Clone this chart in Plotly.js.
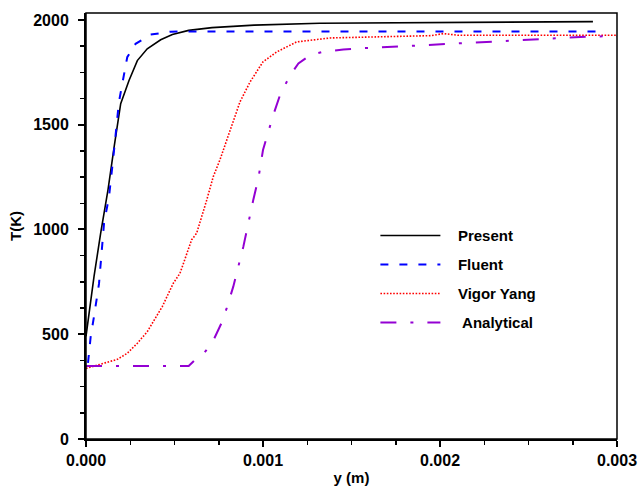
<!DOCTYPE html>
<html>
<head>
<meta charset="utf-8">
<script src="https://cdn.plot.ly/plotly-3.0.1.min.js"></script>
<style>html,body{margin:0;padding:0;background:#fff;}#chart{width:641px;height:489px;}</style>
</head>
<body>
<div id="chart"></div>
<script>
// Present (solid black)
const presentX = [0, 0.0000452, 0.0000829, 0.000124, 0.00016, 0.000196, 0.000243, 0.00029, 0.000346, 0.000422, 0.000488, 0.00058, 0.000712, 0.00095, 0.00132, 0.002, 0.002864];
const presentT = [490, 775, 982, 1188, 1400, 1600, 1711, 1806, 1862, 1905, 1930, 1950, 1963, 1975, 1984, 1989, 1992];

// Fluent (dashed blue)
const fluentX = [0.0000113, 0.0000264, 0.0000452, 0.0000734, 0.000102, 0.00013, 0.000155, 0.000175, 0.000186, 0.000205, 0.000233, 0.00028, 0.000365, 0.000479, 0.0006, 0.00288];
const fluentT = [363, 488, 585, 740, 1030, 1156, 1350, 1536, 1608, 1695, 1822, 1886, 1930, 1944, 1945, 1945];

// Vigor Yang (dotted red)
const vigorX = [0, 0.000102, 0.000177, 0.000233, 0.00029, 0.000346, 0.000394, 0.000431, 0.000493, 0.000531, 0.000597, 0.000625, 0.000682, 0.000719, 0.000757, 0.000795, 0.00087, 0.000927, 0.001, 0.001077, 0.00119, 0.00138, 0.00165, 0.00195, 0.00202, 0.0021, 0.0025, 0.003];
const vigorT = [337, 361, 380, 409, 457, 512, 576, 632, 743, 791, 951, 982, 1140, 1252, 1333, 1428, 1609, 1704, 1800, 1847, 1895, 1914, 1920, 1925, 1935, 1927, 1927, 1927];

// Analytical (dash-dot purple)
const analyticX = [0, 0.00058, 0.00061, 0.000667, 0.000714, 0.00077, 0.000795, 0.000832, 0.000889, 0.000917, 0.000945, 0.000974, 0.001, 0.001058, 0.001096, 0.001153, 0.0012, 0.001266, 0.00134, 0.001454, 0.001586, 0.001925, 0.002226, 0.002527, 0.002847, 0.003];
const analyticT = [348, 348, 373, 410, 461, 561, 625, 727, 918, 1037, 1141, 1244, 1379, 1546, 1641, 1736, 1792, 1832, 1848, 1859, 1866, 1880, 1893, 1905, 1921, 1922];

const seriesNames = ['Present', 'Fluent', 'Vigor Yang', 'Analytical'];
const xTicks = [0, 0.001, 0.002, 0.003];
const xTickText = ['0.000', '0.001', '0.002', '0.003'];
const yTicks = [0, 500, 1000, 1500, 2000];

const FONT = 'Liberation Sans, Arial, sans-serif';
const pad = '\u00a0\u00a0\u00a0';

const traces = [
  {x: presentX, y: presentT, name: pad + seriesNames[0], legendgroup: 'a', mode: 'lines',
   line: {color: '#000000', width: 1.6}},
  {x: fluentX, y: fluentT, name: pad + seriesNames[1], legendgroup: 'b', mode: 'lines',
   line: {color: '#0000FF', width: 2, dash: '8px,11px'}},
  {x: vigorX, y: vigorT, name: pad + seriesNames[2], legendgroup: 'c', mode: 'lines',
   line: {color: '#FF0000', width: 1.6, dash: '1.6px,1.6px'}},
  {x: analyticX, y: analyticT, name: pad + '\u00a0' + seriesNames[3], legendgroup: 'd', mode: 'lines',
   line: {color: '#9400D3', width: 2, dash: '16px,14px,3px,14px'}}
];

const layout = {
  width: 641, height: 489,
  margin: {l: 86, r: 24, t: 13, b: 50},
  paper_bgcolor: '#ffffff', plot_bgcolor: '#ffffff',
  font: {family: FONT, color: '#000000'},
  showlegend: true,
  legend: {x: 0.545, y: 0.516, xanchor: 'left', yanchor: 'top',
           bgcolor: 'rgba(0,0,0,0)', traceorder: 'grouped', tracegroupgap: 6.5,
           itemwidth: 60,
           font: {family: FONT, size: 15, weight: 700, color: '#000'}},
  xaxis: {
    range: [0, 0.003], tickvals: xTicks, ticktext: xTickText,
    ticks: 'outside', ticklen: 6, tickwidth: 2, tickcolor: '#000',
    showline: true, linewidth: 2, linecolor: '#000',
    showgrid: false, zeroline: false,
    tickfont: {family: FONT, size: 16, weight: 700, color: '#000'},
    minor: {dtick: 0.00025, tick0: 0, ticks: 'outside', ticklen: 4, tickwidth: 1.5, tickcolor: '#000', showgrid: false},
    title: {text: 'y (m)', font: {family: FONT, size: 15, weight: 700, color: '#000'}, standoff: 4}
  },
  yaxis: {
    range: [0, 2033], tickvals: yTicks,
    ticks: 'outside', ticklen: 6, tickwidth: 2, tickcolor: '#000',
    showline: true, linewidth: 2, linecolor: '#000',
    showgrid: false, zeroline: false,
    ticklabelstandoff: 6,
    tickfont: {family: FONT, size: 16, weight: 700, color: '#000'},
    minor: {dtick: 125, tick0: 0, ticks: 'outside', ticklen: 4, tickwidth: 1.5, tickcolor: '#000', showgrid: false},
    title: {text: 'T(K)', font: {family: FONT, size: 15, weight: 700, color: '#000'}, standoff: 8}
  },
  shapes: [
    {type: 'rect', xref: 'paper', yref: 'paper', x0: 0, x1: 1, y0: 0, y1: 1,
     line: {color: '#000', width: 1.5}, fillcolor: 'rgba(0,0,0,0)', layer: 'above'}
  ]
};

Plotly.newPlot('chart', traces, layout, {displayModeBar: false, staticPlot: true});
</script>
</body>
</html>
